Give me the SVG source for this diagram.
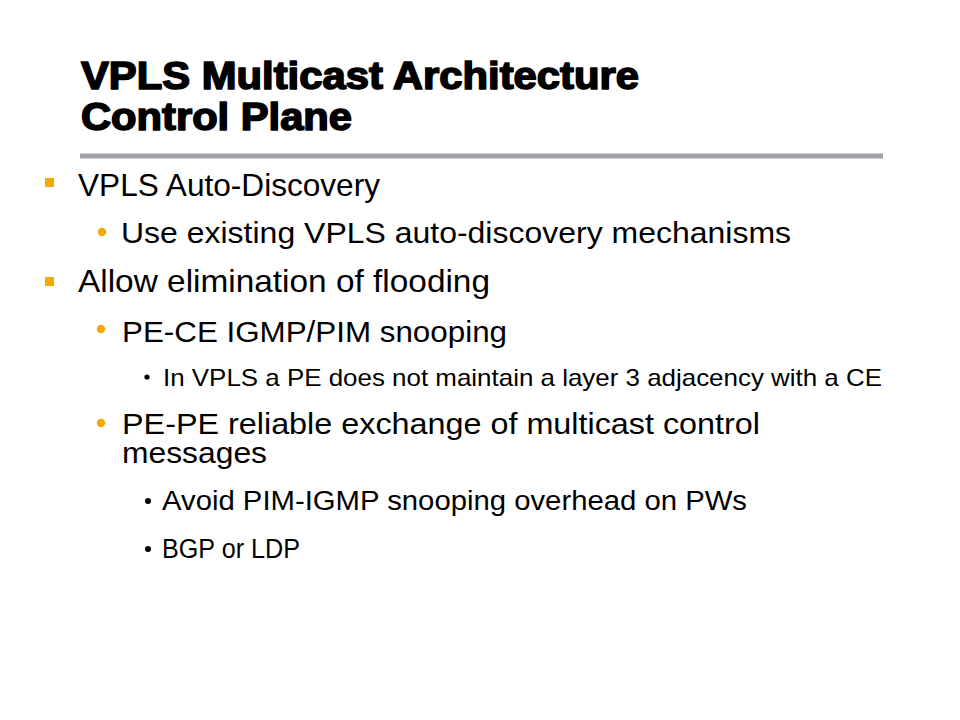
<svg xmlns="http://www.w3.org/2000/svg" width="960" height="720" viewBox="0 0 960 720">
  <style>
    .title { font-family: "Liberation Sans", Arial, sans-serif; font-weight: 700; font-size: 38px; fill: #000; stroke: #000; stroke-width: 1.6px; stroke-linejoin: round; }
    .l1 { font-family: "Liberation Sans", Arial, sans-serif; font-size: 32px; fill: #000; }
    .l2 { font-family: "Liberation Sans", Arial, sans-serif; font-size: 30px; fill: #000; }
    .l3 { font-family: "Liberation Sans", Arial, sans-serif; font-size: 24px; fill: #000; }
    .l3b { font-family: "Liberation Sans", Arial, sans-serif; font-size: 27px; fill: #000; }
    .sq { fill: #F2A900; }
    .dot { fill: #F2A900; }
    .sdot { fill: #000; }
  </style>
  <rect x="0" y="0" width="960" height="720" fill="#ffffff"/>
  <g id="title">
    <text class="title" x="81" y="89" textLength="558" lengthAdjust="spacingAndGlyphs">VPLS Multicast Architecture</text>
    <text class="title" x="81" y="130" textLength="271" lengthAdjust="spacingAndGlyphs">Control Plane</text>
  </g>
  <line x1="80" y1="156" x2="883" y2="156" stroke="#A1A1A6" stroke-width="5"/>
  <g id="bullets">
    <rect class="sq" x="45" y="178" width="9" height="9"/>
    <text class="l1" x="78" y="196" textLength="302" lengthAdjust="spacingAndGlyphs">VPLS Auto-Discovery</text>

    <circle class="dot" cx="102" cy="232" r="4.2"/>
    <text class="l2" x="121" y="243" textLength="670" lengthAdjust="spacingAndGlyphs">Use existing VPLS auto-discovery mechanisms</text>

    <rect class="sq" x="45" y="277" width="9" height="9"/>
    <text class="l1" x="78" y="292" textLength="412" lengthAdjust="spacingAndGlyphs">Allow elimination of flooding</text>

    <circle class="dot" cx="101" cy="329" r="4.2"/>
    <text class="l2" x="122" y="342" textLength="385" lengthAdjust="spacingAndGlyphs">PE-CE IGMP/PIM snooping</text>

    <circle class="sdot" cx="147" cy="377" r="2.6"/>
    <text class="l3" x="163" y="386" textLength="719" lengthAdjust="spacingAndGlyphs">In VPLS a PE does not maintain a layer 3 adjacency with a CE</text>

    <circle class="dot" cx="101" cy="423" r="4.2"/>
    <text class="l2" x="122" y="434" textLength="638" lengthAdjust="spacingAndGlyphs">PE-PE reliable exchange of multicast control</text>
    <text class="l2" x="122" y="463" textLength="145" lengthAdjust="spacingAndGlyphs">messages</text>

    <circle class="sdot" cx="148" cy="501" r="3"/>
    <text class="l3b" x="162" y="510" textLength="585" lengthAdjust="spacingAndGlyphs">Avoid PIM-IGMP snooping overhead on PWs</text>

    <circle class="sdot" cx="148" cy="549" r="3"/>
    <text class="l3b" x="162" y="558" textLength="138" lengthAdjust="spacingAndGlyphs">BGP or LDP</text>
  </g>
</svg>
